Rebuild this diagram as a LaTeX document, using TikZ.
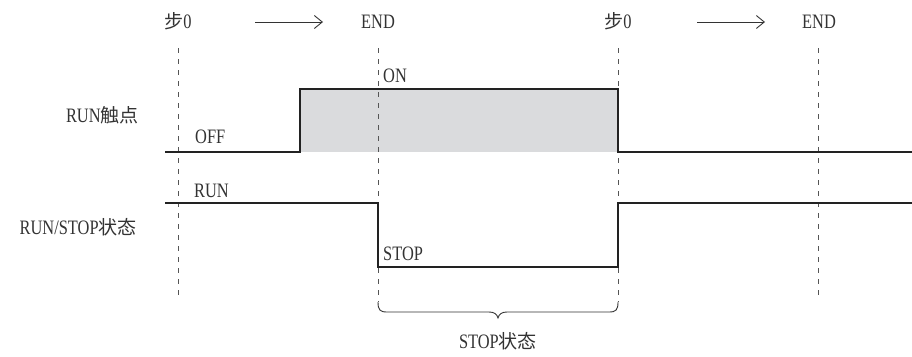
\documentclass[tikz,border=0pt]{standalone}
\usepackage{fontspec}
\setmainfont{Liberation Serif}[FakeStretch=0.8]
\newfontfamily\cjk{Noto Sans CJK SC}[Scale=0.93]
\usetikzlibrary{arrows.meta}
\definecolor{wave}{HTML}{222222}
\definecolor{fillgray}{HTML}{DADBDD}
\definecolor{guide}{HTML}{555555}
\tikzset{
  lbl/.style={inner sep=0pt, font=\fontsize{20.5}{23}\selectfont, text=black!80},
  waveline/.style={draw=wave, line width=2pt, line join=miter},
  guideline/.style={draw=guide, line width=0.8pt, dash pattern=on 5pt off 6pt},
  flowarrow/.style={draw=black!80, line width=0.9pt, -{Straight Barb[length=8pt,width=13pt]}},
  bracestyle/.style={draw=black!80, line width=0.9pt}
}
\begin{document}
\begin{tikzpicture}[x=1pt,y=-1pt]
\useasboundingbox (0,0) rectangle (912,356);
% guide lines
\coordinate (g1t) at (178,48);  \coordinate (g1b) at (178,298);
\coordinate (g2t) at (378,48);  \coordinate (g2b) at (378,302);
\coordinate (g3t) at (618,48);  \coordinate (g3b) at (618,302);
\coordinate (g4t) at (818,48);  \coordinate (g4b) at (818,298);
% gray fill of ON
\fill[fillgray] (300,89) rectangle (618,152);
\foreach \i in {1,2,3,4} \draw[guideline] (g\i t) -- (g\i b);
% header
\node[lbl, anchor=base] (s0a) at (178,28) {{\cjk 步}0};
\node[lbl, anchor=base] (enda) at (378,28) {END};
\node[lbl, anchor=base] (s0b) at (618,28) {{\cjk 步}0};
\node[lbl, anchor=base] (endb) at (819,28) {END};
\coordinate (a1s) at (255,22); \coordinate (a1e) at (323,22);
\coordinate (a2s) at (697,22); \coordinate (a2e) at (765,22);
\draw[flowarrow] (a1s) -- (a1e);
\draw[flowarrow] (a2s) -- (a2e);
% RUN contact waveform
\coordinate (r0) at (165,152); \coordinate (r1) at (300,152); \coordinate (r2) at (300,89);
\coordinate (r3) at (618,89); \coordinate (r4) at (618,152); \coordinate (r5) at (912,152);
\draw[waveline] (r0) -- (r1) -- (r2) -- (r3) -- (r4) -- (r5);
% RUN/STOP waveform
\coordinate (q0) at (165,203); \coordinate (q1) at (378,203); \coordinate (q2) at (378,267);
\coordinate (q3) at (618,267); \coordinate (q4) at (618,203); \coordinate (q5) at (912,203);
\draw[waveline] (q0) -- (q1) -- (q2) -- (q3) -- (q4) -- (q5);
% labels
\node[lbl, anchor=base east] (runc) at (139,122) {RUN{\cjk 触点}};
\node[lbl, anchor=base east] (runs) at (137,234) {RUN/STOP{\cjk 状态}};
\node[lbl, anchor=base west] (on) at (383,82) {ON};
\node[lbl, anchor=base west] (off) at (195,143) {OFF};
\node[lbl, anchor=base west] (run) at (194,197) {RUN};
\node[lbl, anchor=base west] (stop) at (383,260) {STOP};
% brace
\draw[bracestyle] (g2b) .. controls (378,310) and (380,312) .. (387,312) -- (489,312)
  .. controls (494,312) and (497,314) .. (498,318)
  .. controls (499,314) and (502,312) .. (507,312) -- (609,312)
  .. controls (616,312) and (618,310) .. (g3b);
\node[lbl, anchor=base] (stops) at (498,348) {STOP{\cjk 状态}};
\end{tikzpicture}
\end{document}
